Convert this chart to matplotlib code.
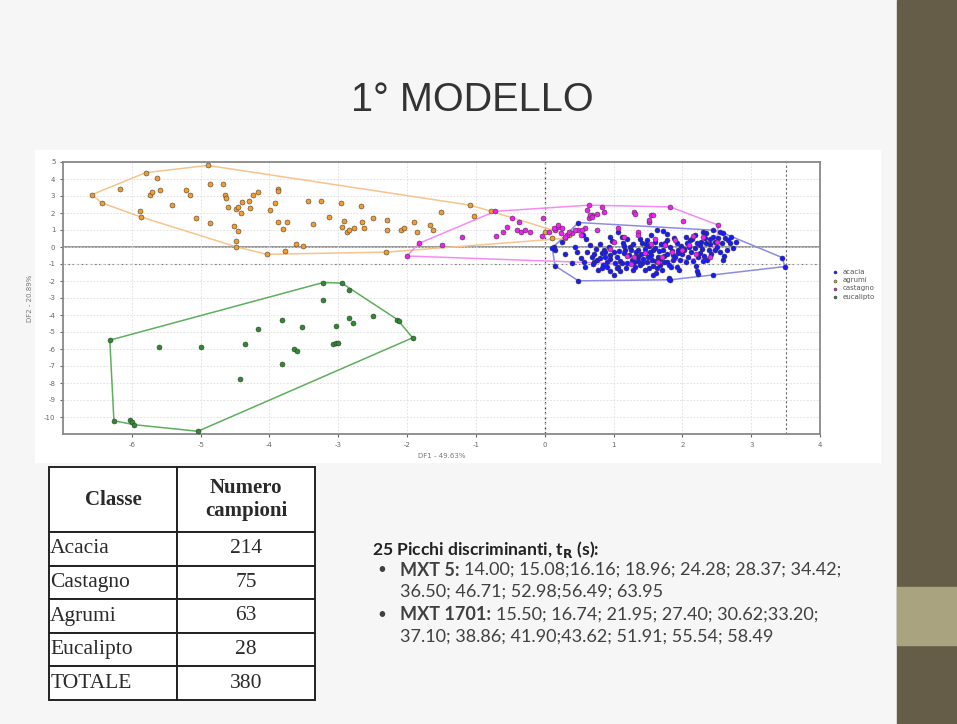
import matplotlib
matplotlib.use("Agg")
import matplotlib.pyplot as plt
from matplotlib.patches import Rectangle
import numpy as np

plt.rcParams["axes.unicode_minus"] = False

# ---- data ----
acacia = [
    (0.13, 0.02), (0.15, -0.18), (0.15, -1.11), (0.11, -0.08), (0.40, -0.95), (0.44, 0.02),
    (0.47, -0.27), (0.52, -0.66), (0.49, 1.44), (0.49, -1.99), (0.30, -0.40), (0.25, 0.30),
    (0.57, -0.86), (0.59, -1.15), (0.69, -0.57), (0.71, -0.86), (0.76, -0.76), (0.81, -0.66),
    (0.83, -0.37), (0.86, -0.18), (0.88, -0.57), (0.90, -0.86), (0.78, -1.35), (0.83, -1.25),
    (0.62, -0.30), (0.66, 0.10), (0.74, -0.10), (0.80, 0.20), (0.70, -1.00), (0.85, -1.05),
    (0.60, 0.45), (0.55, 0.70),
    (0.93, 0.02), (0.95, -0.47), (0.90, -1.15), (0.95, -1.44), (1.00, -1.64), (1.10, -1.44),
    (1.07, -1.15), (1.07, 0.89), (1.12, 0.60), (1.14, 0.21), (1.17, -0.18), (1.22, -0.47),
    (1.24, 0.02), (1.27, -0.76), (1.29, -0.86), (1.20, -0.95), (1.00, -0.30), (1.05, -0.60),
    (1.10, -0.85), (0.98, 0.35), (1.15, -0.35), (1.25, -0.20), (1.02, -0.95), (1.18, -1.25),
    (1.28, -1.35), (0.95, 0.60), (1.20, 0.45),
    (1.31, -1.15), (1.36, -0.57), (1.36, -0.18), (1.41, 0.21), (1.46, -0.37), (1.48, -0.86),
    (1.51, -1.25), (1.56, -0.76), (1.58, -0.18), (1.60, 0.31), (1.63, 0.99), (1.65, -0.57),
    (1.68, -1.05), (1.58, -1.64), (1.62, -1.55), (1.40, -0.40), (1.45, -0.10), (1.50, -0.60),
    (1.55, -0.45), (1.35, -0.80), (1.42, -0.95), (1.52, 0.05), (1.66, -0.25), (1.38, 0.50),
    (1.55, 0.70), (1.45, -1.35), (1.33, -0.30), (1.62, -0.85), (1.48, 0.40), (1.57, -1.10),
    (1.69, 0.15),
    (1.70, -1.35), (1.72, -0.18), (1.75, 0.21), (1.77, -0.86), (1.80, -1.05), (1.77, 0.41),
    (1.82, 0.02), (1.92, 0.21), (1.94, -0.18), (1.87, -0.47), (1.97, -0.76), (1.92, -1.15),
    (1.80, -1.83), (1.82, -1.93), (1.80, -1.89), (2.06, 0.60), (2.09, 0.02), (2.11, 0.41),
    (1.74, -0.55), (1.85, -0.25), (1.90, -0.60), (2.00, -0.40), (2.05, -0.90), (1.78, 0.75),
    (1.88, 0.55), (2.02, -0.10), (1.95, -1.35), (1.83, -1.20), (2.08, -0.60), (1.72, 0.95),
    (2.18, 0.70), (2.21, 0.21), (2.26, -0.37), (2.23, -0.57), (2.21, -1.44), (2.23, -1.58),
    (2.30, 0.89), (2.35, 0.80), (2.33, 0.51), (2.45, 0.60), (2.47, 0.31), (2.45, 0.99),
    (2.38, -0.18), (2.36, -0.76), (2.45, -1.64), (2.15, -0.85), (2.28, -0.10), (2.40, 0.15),
    (2.32, -0.55), (2.20, -1.10), (2.42, -0.40), (2.14, 0.45), (2.27, 0.30),
    (2.50, 0.02), (2.55, 0.89), (2.59, 0.80), (2.57, 0.21), (2.62, 0.51), (2.67, 0.41),
    (2.69, 0.21), (2.71, 0.60), (2.74, -0.08), (2.59, -0.76), (2.55, -0.30), (2.65, -0.15),
    (2.52, 0.55), (2.60, -0.50), (2.78, 0.30),
    (3.45, -0.62), (3.49, -1.15),
    (0.95, -0.70), (1.08, -0.25), (1.12, -0.95), (1.32, -0.55), (1.43, -0.70), (1.53, -0.30),
    (1.60, -0.05), (1.67, -0.70), (1.73, -0.90), (1.86, -0.75), (1.93, -0.35), (2.03, -0.20),
    (2.12, -0.30), (2.18, -0.05), (2.25, 0.10), (2.35, 0.25), (2.48, -0.15), (1.28, 0.15),
    (1.15, 0.05), (0.88, -0.30), (1.38, -1.05), (1.63, -1.25), (1.98, 0.05), (2.07, 0.25),
    (2.40, 0.45), (1.47, 0.15), (1.78, -0.40), (0.72, -0.40), (1.05, -1.25), (2.30, -0.80),
]

agrumi = [
    (-6.58, 3.08), (-6.44, 2.60), (-6.17, 3.43), (-5.80, 4.37), (-5.64, 4.05), (-5.74, 3.08),
    (-5.70, 3.23), (-5.59, 3.37), (-5.88, 2.10), (-5.87, 1.77), (-5.41, 2.46), (-5.21, 3.37),
    (-5.16, 3.08), (-5.07, 1.68), (-4.90, 4.80), (-4.87, 3.72), (-4.87, 1.44), (-4.67, 3.68),
    (-4.64, 3.04), (-4.63, 2.90), (-4.60, 2.36), (-4.52, 1.23), (-4.49, 2.26), (-4.46, 2.36),
    (-4.42, 2.00), (-4.49, 0.35), (-4.49, 0.02), (-4.45, 0.94), (-4.40, 2.65), (-4.29, 2.71),
    (-4.28, 2.32), (-4.24, 3.04), (-4.17, 3.23), (-4.04, -0.43), (-3.99, 2.20), (-3.92, 2.61),
    (-3.87, 3.39), (-3.87, 3.27), (-3.87, 1.48), (-3.75, 1.48), (-3.80, 1.05), (-3.77, -0.23),
    (-3.62, 0.16), (-3.51, 0.08), (-3.44, 2.71), (-3.25, 2.71), (-3.36, 1.33), (-3.14, 1.77),
    (-2.96, 2.61), (-2.91, 1.54), (-2.94, 1.19), (-2.87, 0.89), (-2.67, 2.42), (-2.84, 0.99),
    (-2.77, 1.09), (-2.65, 1.48), (-2.62, 1.09), (-2.50, 1.68), (-2.29, 1.58), (-2.29, 0.99),
    (-2.09, 0.99), (-2.04, 1.09), (-1.90, 1.48), (-1.85, 0.89), (-1.66, 1.29), (-1.63, 0.99),
    (-1.51, 2.06), (-1.08, 2.46), (-1.03, 1.81), (-0.78, 2.10), (0.01, 0.89), (0.10, 0.53),
    (0.30, 0.51), (0.35, 0.70), (-2.30, -0.30),
]

castagno = [
    (-2.00, -0.53), (-1.83, 0.21), (-0.72, 2.10), (-0.71, 0.64), (-0.47, 1.68), (-0.38, 1.48),
    (-0.40, 0.99), (-0.35, 0.89), (-0.28, 0.99), (-0.21, 0.89), (-0.03, 1.68), (-0.04, 0.64),
    (0.15, 0.99), (0.20, 1.19), (0.40, 0.80), (0.49, 0.99), (0.59, 1.09), (0.64, 1.68),
    (0.69, 1.87), (0.61, 2.20), (0.83, 2.36), (0.86, 2.06), (0.76, 0.99), (1.30, 2.03),
    (1.55, 1.87), (1.51, 1.48), (2.01, 1.54), (1.82, 2.36), (2.52, 1.29),
    (0.06, 0.89), (0.13, 1.09), (0.20, 1.29), (0.23, 0.80), (0.32, 0.70), (0.44, 0.99),
    (0.54, 0.99), (0.52, 0.70), (0.64, 2.46), (0.66, 1.87), (0.69, 1.77), (0.76, 1.97),
    (1.31, 1.97), (1.58, 1.87), (1.51, 1.58), (1.07, 1.09), (1.36, 0.89),
    (1.00, 0.30), (1.20, -0.50), (1.30, -0.60), (1.45, -0.35), (1.55, 0.20), (1.60, 0.50),
    (1.70, -0.60), (1.75, 0.10), (1.65, -0.90), (1.90, 0.40), (2.00, -0.20), (2.10, 0.10),
    (2.20, -0.40), (2.30, 0.60), (2.40, -0.60), (2.50, 0.30), (1.35, 0.70), (1.15, 0.60),
    (0.95, -0.10), (1.85, -0.30), (2.15, 0.65), (0.30, 0.60), (0.35, 0.90), (0.25, 1.10),
    (1.25, -1.00), (-0.55, 1.20), (-0.60, 0.90), (-1.20, 0.60), (-1.50, 0.10),
]

eucalipto = [
    (-6.32, -5.48), (-6.26, -10.22), (-6.03, -10.16), (-6.00, -10.31), (-5.97, -10.45),
    (-5.04, -10.84), (-5.60, -5.87), (-5.00, -5.87), (-4.36, -5.69), (-4.43, -7.74),
    (-4.17, -4.80), (-3.82, -4.31), (-3.82, -6.86), (-3.64, -6.02), (-3.60, -6.12),
    (-3.53, -4.70), (-3.22, -2.09), (-2.95, -2.12), (-3.22, -3.10), (-3.04, -4.62),
    (-3.08, -5.73), (-3.04, -5.67), (-3.01, -5.63), (-2.84, -2.51), (-2.84, -4.17),
    (-2.79, -4.46), (-2.50, -4.04), (-2.14, -4.27), (-2.12, -4.37), (-1.92, -5.34),
]

classes = ["acacia", "agrumi", "castagno", "eucalipto"]
class_points = [acacia, agrumi, castagno, eucalipto]
point_colors = ["#1a1aff", "#f39c2e", "#f020f0", "#2e8b2e"]
hull_colors = ["#8c8ce6", "#f6c48e", "#f58cf5", "#5fae5f"]

table_header = ["Classe", "Numero\ncampioni"]
table_rows = [["Acacia", "214"], ["Castagno", "75"], ["Agrumi", "63"],
              ["Eucalipto", "28"], ["TOTALE", "380"]]

mxt5 = "14.00; 15.08;16.16; 18.96; 24.28; 28.37; 34.42;"
mxt5_b = "36.50; 46.71; 52.98;56.49; 63.95"
mxt1701 = "15.50; 16.74; 21.95; 27.40; 30.62;33.20;"
mxt1701_b = "37.10; 38.86; 41.90;43.62; 51.91; 55.54; 58.49"


def convex_hull(pts):
    pts = sorted(set(pts))
    def cross(o, a, b):
        return (a[0]-o[0])*(b[1]-o[1]) - (a[1]-o[1])*(b[0]-o[0])
    lower, upper = [], []
    for p in pts:
        while len(lower) >= 2 and cross(lower[-2], lower[-1], p) <= 0:
            lower.pop()
        lower.append(p)
    for p in reversed(pts):
        while len(upper) >= 2 and cross(upper[-2], upper[-1], p) <= 0:
            upper.pop()
        upper.append(p)
    return lower[:-1] + upper[:-1]


fig = plt.figure(figsize=(9.57, 7.24), dpi=100)
fig.patch.set_facecolor("#f6f6f6")

# slide side bar and white chart panel (behind the axes)
fig.patches.append(Rectangle((897/957, 0), 60/957, 1, transform=fig.transFigure,
                             color="#665d48", zorder=-3))
fig.patches.append(Rectangle((897/957, 1-645/724), 60/957, 58/724, transform=fig.transFigure,
                             color="#a9a47f", zorder=-2))
fig.patches.append(Rectangle((35/957, 1-462/724), 845/957, 312/724, transform=fig.transFigure,
                             color="white", zorder=-3))

fig.text(472/957, 1-100/724, "1° MODELLO", ha="center", va="center",
         fontsize=28.5, color="#333333", family="Liberation Sans")

# ---- scatter ----
ax = fig.add_axes([63/957, 1-434/724, 757/957, 272/724])
ax.set_zorder(2)
ax.set_facecolor("white")
for name, pts, pc, hc in zip(classes, class_points, point_colors, hull_colors):
    xy = np.array(pts)
    h = convex_hull(pts)
    hull = np.array(h + [h[0]])
    ax.plot(hull[:, 0], hull[:, 1], color=hc, lw=1.1, zorder=2)
    ax.scatter(xy[:, 0], xy[:, 1], s=13, color=pc, edgecolors="#333333",
               linewidths=0.35, zorder=3, label=name)

ax.set_xlim(-7, 4)
ax.set_ylim(-11, 5)
ax.set_xticks(range(-6, 5))
ax.set_yticks(range(-10, 6))
ax.grid(True, color="#dddddd", lw=0.6, ls=(0, (2, 2)))
ax.axhline(0, color="#999999", lw=1.4, zorder=1)
ax.axhline(-1, color="#777777", lw=0.8, ls=(0, (2, 2)), zorder=1)
ax.axvline(0, color="#333333", lw=0.9, ls=(0, (2, 2)), zorder=1)
ax.axvline(3.5, color="#666666", lw=0.8, ls=(0, (2, 2)), zorder=1)
for s in ax.spines.values():
    s.set_color("#888888")
    s.set_linewidth(1.3)
ax.tick_params(labelsize=5, colors="#666666", length=2)
ax.set_xlabel("DF1 - 49.63%", fontsize=5, color="#777777", labelpad=4)
ax.set_ylabel("DF2 - 20.89%", fontsize=5, color="#777777", labelpad=8)
leg = ax.legend(loc="center left", bbox_to_anchor=(1.005, 0.55), frameon=False,
                fontsize=5, markerscale=0.6, handletextpad=0.1, labelspacing=0.3,
                borderaxespad=0.2)
for t in leg.get_texts():
    t.set_color("#555555")

# ---- table ----
tax = fig.add_axes([49/957, 1-700/724, 266/957, 233/724])
tax.axis("off")
tb = tax.table(cellText=table_rows, colLabels=table_header, bbox=[0, 0, 1, 1],
               colWidths=[128, 138], cellLoc="center")
tb.auto_set_font_size(False)
for (r, c), cell in tb.get_celld().items():
    cell.set_edgecolor("#222222")
    cell.set_linewidth(1.4)
    cell.set_facecolor("white")
    cell.set_height(65 if r == 0 else 33.6)
    txt = cell.get_text()
    txt.set_family("Liberation Serif")
    txt.set_fontsize(15.5)
    txt.set_color("#2a2a2a")
    if r == 0:
        txt.set_fontweight("bold")
        txt.set_fontsize(15)
        txt.set_linespacing(1.2)
    elif c == 0:
        cell._loc = "left"
        cell.PAD = 0.01
        txt.set_horizontalalignment("left")

# ---- text block ----
sans = "Lato"
tc = "#404040"
fig.text(372/957, 1-549/724, r"25 Picchi discriminanti, t$_\mathbf{R}$ (s):", fontsize=12.6,
         family=sans, weight="bold", color="#222222", va="center")
for yb, label, l1, l2 in [(570, "MXT 5: ", mxt5, mxt5_b), (615, "MXT 1701: ", mxt1701, mxt1701_b)]:
    fig.text(377/957, 1-yb/724, "•", fontsize=11, family=sans, color=tc, va="center")
    b = fig.text(400/957, 1-yb/724, label, fontsize=13, family=sans, weight="bold",
                 color=tc, va="center")
    fig.add_artist(plt.Annotation(l1, xy=(1, 0.5), xycoords=b, va="center",
                                  fontsize=13, family=sans, color=tc,
                                  annotation_clip=False))
    fig.text(400/957, 1-(yb+22)/724, l2, fontsize=13, family=sans, color=tc, va="center")

fig.savefig("out.png", dpi=100, facecolor=fig.get_facecolor())
